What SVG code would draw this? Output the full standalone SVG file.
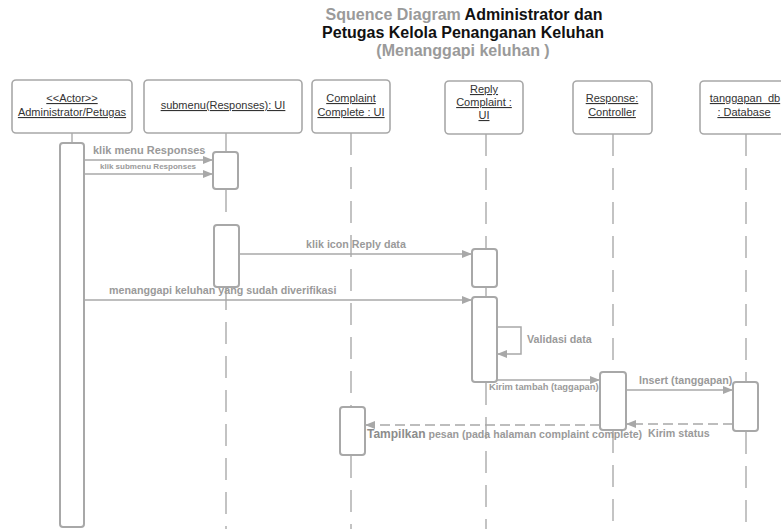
<svg xmlns="http://www.w3.org/2000/svg" width="781" height="529" viewBox="0 0 781 529">
  <style>
    .head { fill: #fff; stroke: #a8a8a8; stroke-width: 1.6; }
    .act { fill: #fff; stroke: #a8a8a8; stroke-width: 2; }
    .life { stroke: #b0b0b0; stroke-width: 1.5; stroke-dasharray: 22 12; fill: none; }
    .solid { stroke: #b0b0b0; stroke-width: 1.5; fill: none; }
    .msg { stroke: #a8a8a8; stroke-width: 1.5; fill: none; marker-end: url(#arrow); }
    .ret { stroke: #a8a8a8; stroke-width: 1.5; fill: none; stroke-dasharray: 10 5; marker-end: url(#arrow); }
    .name { font-family: "Liberation Sans", Arial, sans-serif; font-size: 11px; fill: #333; text-anchor: middle; text-decoration: underline; }
    .lbl { font-family: "Liberation Sans", Arial, sans-serif; font-weight: bold; fill: #9a9a9a; }
    .title { font-family: "Liberation Sans", Arial, sans-serif; font-weight: bold; font-size: 16px; text-anchor: middle; }
  </style>
  <defs>
    <marker id="arrow" viewBox="0 0 10 8" refX="10" refY="4" markerWidth="10" markerHeight="8" markerUnits="userSpaceOnUse" orient="auto">
      <path d="M0,0 L10,4 L0,8 Z" fill="#a8a8a8"/>
    </marker>
  </defs>

  <!-- Title -->
  <g id="title">
    <text class="title" x="464" y="20"><tspan fill="#9a9a9a">Squence Diagram</tspan> <tspan fill="#111">Administrator dan</tspan></text>
    <text class="title" x="463" y="38" fill="#111">Petugas Kelola Penanganan Keluhan</text>
    <text class="title" x="463" y="56" fill="#9a9a9a">(Menanggapi keluhan )</text>
  </g>

  <!-- Lifelines -->
  <g id="lifelines">
    <line class="solid" x1="72" y1="133" x2="72" y2="143"/>
    <line class="solid" x1="226" y1="133" x2="226" y2="152"/>
    <line class="life" x1="226" y1="190" x2="226" y2="225"/>
    <line class="life" x1="226" y1="288" x2="226" y2="529"/>
    <line class="life" x1="351" y1="133" x2="351" y2="407"/>
    <line class="life" x1="351" y1="456" x2="351" y2="529"/>
    <line class="life" x1="486" y1="134" x2="486" y2="249"/>
    <line class="solid" x1="486" y1="287" x2="486" y2="297"/>
    <line class="life" x1="486" y1="383" x2="486" y2="529"/>
    <line class="life" x1="613" y1="134" x2="613" y2="372"/>
    <line class="life" x1="613" y1="431" x2="613" y2="529"/>
    <line class="life" x1="746" y1="134" x2="746" y2="382"/>
    <line class="life" x1="746" y1="432" x2="746" y2="529"/>
  </g>

  <!-- Participants -->
  <g id="actor">
    <rect class="head" x="12" y="80" width="120" height="53" rx="4"/>
    <text class="name" x="72" y="102">&lt;&lt;Actor&gt;&gt;</text>
    <text class="name" x="72" y="116">Administrator/Petugas</text>
    <rect class="act" x="60" y="143" width="24" height="384" rx="3"/>
  </g>
  <g id="submenu">
    <rect class="head" x="144" y="80" width="158" height="53" rx="4"/>
    <text class="name" x="223" y="109">submenu(Responses): UI</text>
    <rect class="act" x="213" y="152" width="25" height="37" rx="3"/>
    <rect class="act" x="214" y="225" width="25" height="62" rx="3"/>
  </g>
  <g id="complaint-complete">
    <rect class="head" x="312" y="80" width="78" height="53" rx="4"/>
    <text class="name" x="351" y="102">Complaint</text>
    <text class="name" x="351" y="116">Complete : UI</text>
    <rect class="act" x="340" y="407" width="25" height="48" rx="3"/>
  </g>
  <g id="reply-complaint">
    <rect class="head" x="445" y="81" width="78" height="53" rx="4"/>
    <text class="name" x="484" y="93">Reply</text>
    <text class="name" x="484" y="106">Complaint  :</text>
    <text class="name" x="484" y="119">UI</text>
    <rect class="act" x="472" y="249" width="25" height="38" rx="3"/>
    <rect class="act" x="472" y="297" width="25" height="85" rx="3"/>
  </g>
  <g id="response-controller">
    <rect class="head" x="573" y="81" width="79" height="53" rx="4"/>
    <text class="name" x="612" y="102">Response:</text>
    <text class="name" x="612" y="116">Controller</text>
    <rect class="act" x="600" y="372" width="26" height="58" rx="3"/>
  </g>
  <g id="tanggapan-db">
    <rect class="head" x="700" y="81" width="95" height="53" rx="4"/>
    <text class="name" x="745" y="102">tanggapan_db</text>
    <text class="name" x="744" y="116">: Database</text>
    <rect class="act" x="733" y="382" width="25" height="49" rx="3"/>
  </g>

  <!-- Messages -->
  <g id="connectors">
    <line class="msg" x1="84" y1="160" x2="213" y2="160"/>
    <line class="msg" x1="84" y1="174" x2="213" y2="174"/>
    <line class="msg" x1="239" y1="254" x2="472" y2="254"/>
    <line class="msg" x1="84" y1="300" x2="472" y2="300"/>
    <path class="msg" d="M497,327 H521 V354 H497"/>
    <line class="msg" x1="497" y1="380" x2="600" y2="380"/>
    <line class="msg" x1="626" y1="390" x2="733" y2="390"/>
    <line class="ret" x1="733" y1="424" x2="626" y2="424"/>
    <line class="ret" x1="600" y1="425" x2="365" y2="425"/>
  </g>

  <!-- Message labels -->
  <g id="labels">
    <text class="lbl" x="93" y="154" font-size="11">klik menu  Responses</text>
    <text class="lbl" x="100" y="169" font-size="8">klik submenu Responses</text>
    <text class="lbl" x="356" y="248" font-size="10.7" text-anchor="middle">klik icon Reply data</text>
    <text class="lbl" x="109" y="294" font-size="10.7">menanggapi keluhan yang sudah diverifikasi</text>
    <text class="lbl" x="527" y="343" font-size="10.7">Validasi data</text>
    <text class="lbl" x="489" y="390" font-size="9.3">Kirim tambah (taggapan)</text>
    <text class="lbl" x="639" y="384" font-size="10.7">Insert (tanggapan)</text>
    <text class="lbl" x="648" y="437" font-size="10.7">Kirim status</text>
    <text class="lbl" x="367" y="438" font-size="10.6"><tspan font-size="12" fill="#8c8c8c">Tampilkan</tspan> pesan (pada halaman complaint complete)</text>
  </g>
</svg>
